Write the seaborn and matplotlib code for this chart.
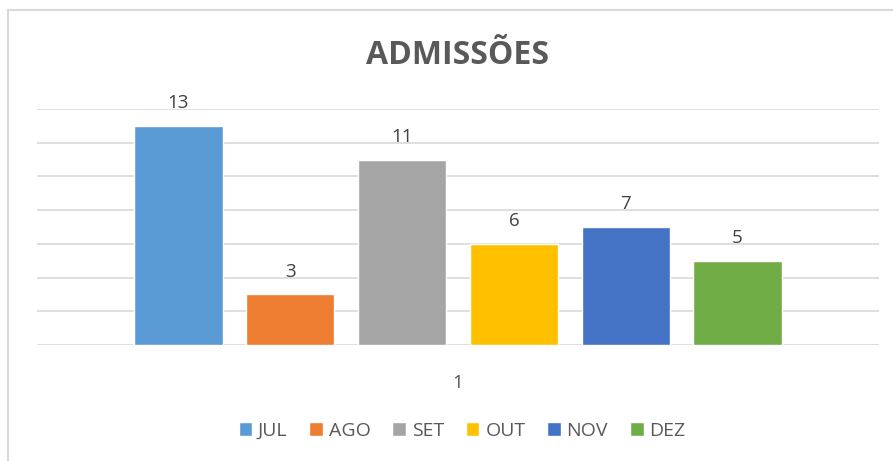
import matplotlib
matplotlib.use("Agg")
import matplotlib.pyplot as plt
import seaborn as sns
import pandas as pd
from matplotlib.patches import Rectangle

months = ["JUL", "AGO", "SET", "OUT", "NOV", "DEZ"]
values = [13, 3, 11, 6, 7, 5]
colors = ["#5B9BD5", "#ED7D31", "#A5A5A5", "#FFC000", "#4472C4", "#70AD47"]
category = ["1"] * len(months)
title = "ADMISSÕES"

sns.set_theme(style="white")
plt.rcParams["font.family"] = ["Open Sans", "DejaVu Sans"]

W, H = 893, 461
fig = plt.figure(figsize=(W / 100, H / 100), dpi=100)
ax = fig.add_axes([37 / W, 1 - 345 / H, (879 - 37) / W, (345 - 109) / H])

df = pd.DataFrame({"cat": category, "mes": months, "val": values})
sns.barplot(data=df, x="cat", y="val", hue="mes", hue_order=months,
            palette=colors, width=0.797, gap=0.21, saturation=1,
            ax=ax, legend=False)

ax.set_xlim(-0.5, 0.5)
ax.set_ylim(0, 14)
ax.set_yticks(range(0, 15, 2))
ax.set_yticklabels([])
ax.tick_params(axis="y", length=0)
ax.tick_params(axis="x", length=0, labelsize=13.5, labelcolor="#595959", pad=21)
ax.grid(axis="y", color="#D9D9D9", linewidth=1.2)
ax.set_axisbelow(True)
for s in ax.spines.values():
    s.set_visible(False)
ax.set_xlabel("")
ax.set_ylabel("")

for c in ax.containers:
    ax.bar_label(c, fontsize=13.5, color="#404040", padding=10)

fig.text(458 / W, 1 - 55 / H, title, ha="center", va="center",
         fontsize=23, fontweight="bold", color="#595959")

handles = [Rectangle((0, 0), 1, 1, facecolor=c) for c in colors]
fig.legend(handles, months, loc="center", bbox_to_anchor=(462 / W, 1 - 431 / H),
           ncol=6, frameon=False, fontsize=14, handlelength=0.7, handleheight=0.7,
           handletextpad=0.3, columnspacing=1.12, labelcolor="#595959")

fig.patches.append(Rectangle((8 / W, -0.1), 1.2, 1 - 10 / H + 0.1, transform=fig.transFigure,
                             fill=False, edgecolor="#D9D9D9", linewidth=1.5))

fig.savefig("out.png", dpi=100, facecolor="white")
